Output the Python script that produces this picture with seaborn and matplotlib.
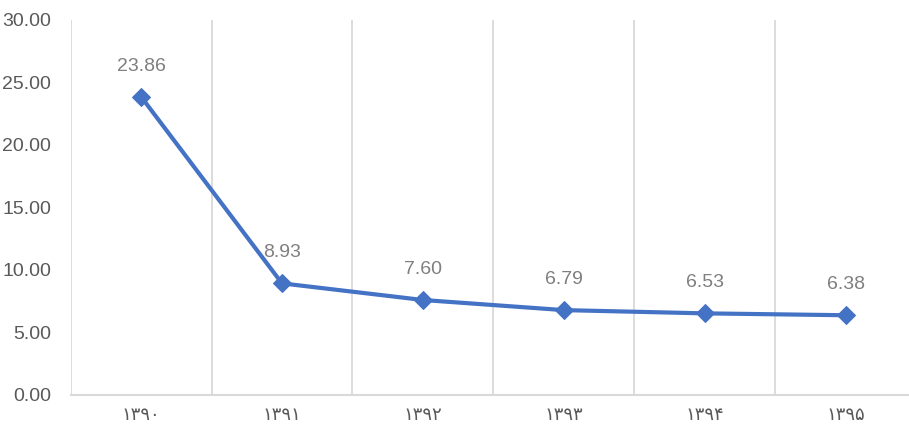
import matplotlib
matplotlib.use("Agg")
import matplotlib.pyplot as plt
import seaborn as sns
import pandas as pd
import numpy as np
from matplotlib import font_manager

years = ["۱۳۹۰", "۱۳۹۱", "۱۳۹۲", "۱۳۹۳", "۱۳۹۴", "۱۳۹۵"]
values = [23.86, 8.93, 7.60, 6.79, 6.53, 6.38]
yticks = [0, 5, 10, 15, 20, 25, 30]

sns.set_style("white")
names = {f.name for f in font_manager.fontManager.ttflist}
fam = ["Liberation Sans Narrow"] if "Liberation Sans Narrow" in names else ["Liberation Sans"]
plt.rcParams["font.family"] = fam + ["DejaVu Sans"]

df = pd.DataFrame({"year": years, "value": values})
df["pos"] = np.arange(len(years))

fig = plt.figure(figsize=(9.09, 4.25), dpi=100)
ax = fig.add_axes([0.0777, 0.0706, 0.93, 0.8824])

sns.lineplot(data=df, x="pos", y="value", ax=ax, color="#4472C4", linewidth=3,
             marker="D", markersize=9, markeredgecolor="#4472C4")

for x, v in zip(df["pos"], values):
    ax.annotate(f"{v:.2f}", (x, v), xytext=(0, 22), textcoords="offset points",
                ha="center", va="center", fontsize=14, color="#7f7f7f")

ax.set_xlim(-0.5, len(years) - 0.5)
ax.set_ylim(0, 30)
ax.set_yticks(yticks)
ax.set_yticklabels([f"{t:.2f}" for t in yticks], fontsize=14, color="#595959")
ax.set_xticks(df["pos"])
ax.set_xticklabels(years, fontsize=13, color="#595959", family=["DejaVu Sans"])
ax.set_xticks(np.arange(-0.5, len(years) + 0.5, 1), minor=True)
ax.grid(axis="x", which="minor", color="#d9d9d9", linewidth=1.3)
ax.grid(axis="x", which="major", visible=False)
ax.grid(axis="y", visible=False)
ax.tick_params(axis="both", which="both", length=0)
ax.tick_params(axis="x", pad=8)
ax.tick_params(axis="y", pad=14)
ax.set_xlabel("")
ax.set_ylabel("")
for s in ["top", "right", "left"]:
    ax.spines[s].set_visible(False)
ax.spines["bottom"].set_color("#d9d9d9")
ax.spines["bottom"].set_linewidth(1.5)

fig.savefig("out.png", dpi=100)
